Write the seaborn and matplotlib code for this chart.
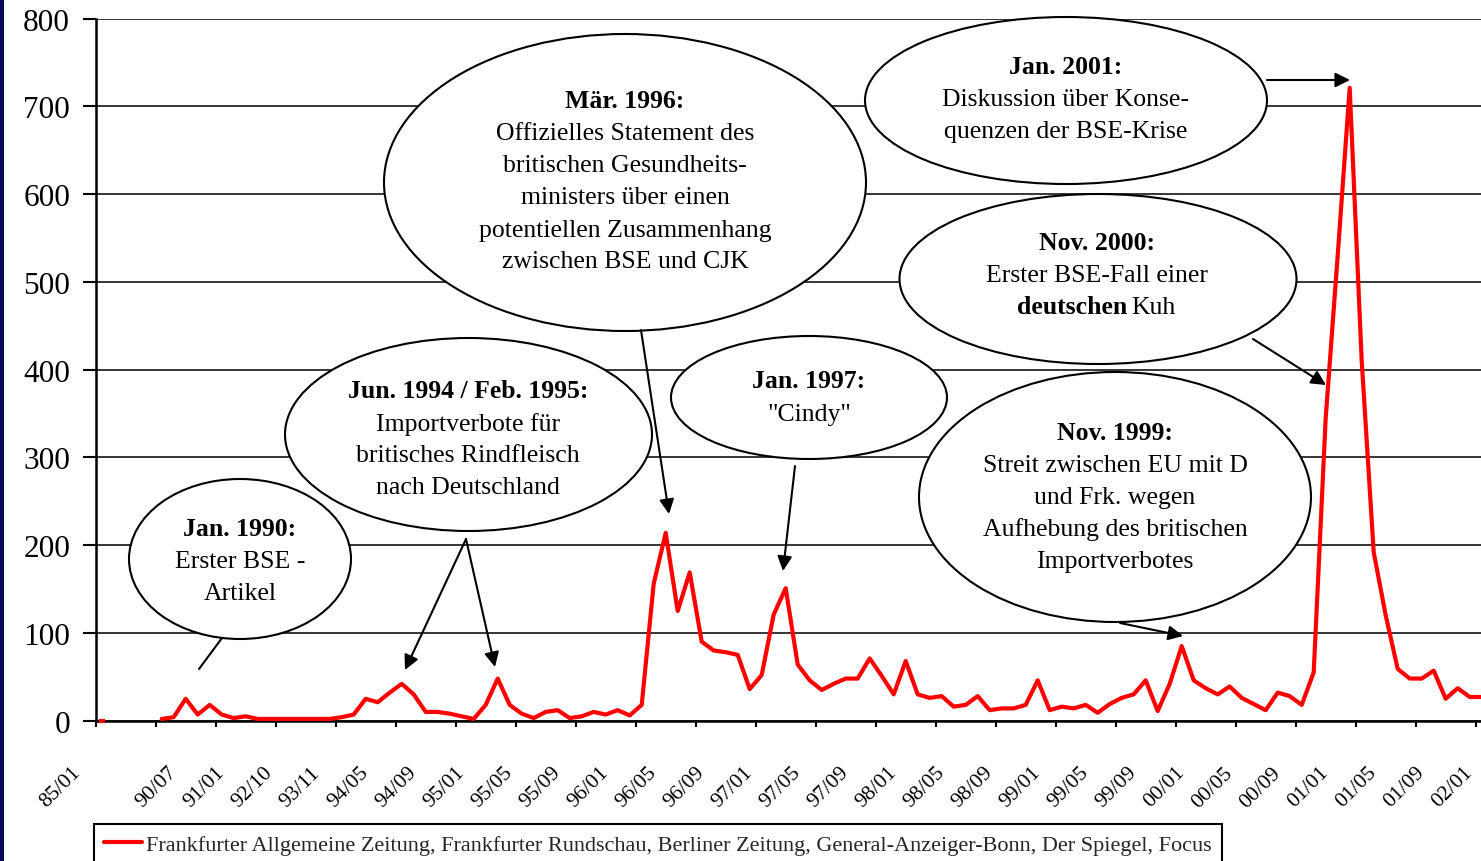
import numpy as np
import pandas as pd
import matplotlib
matplotlib.use("Agg")
import matplotlib.pyplot as plt
import seaborn as sns
from matplotlib.patches import Ellipse, Rectangle, FancyArrowPatch
from matplotlib.transforms import ScaledTranslation, blended_transform_factory
from matplotlib.lines import Line2D

W, H, DPI = 1481, 862, 100

# ---------------- data ----------------
series_name = ("Frankfurter Allgemeine Zeitung, Frankfurter Rundschau, Berliner Zeitung, "
               "General-Anzeiger-Bonn, Der Spiegel, Focus")

# category labels, one every 4 categories (second one left blank as in the original)
tick_labels = ["85/01", "", "90/07", "91/01", "92/10", "93/11", "94/05", "94/09",
               "95/01", "95/05", "95/09", "96/01", "96/05", "96/09", "97/01", "97/05",
               "97/09", "98/01", "98/05", "98/09", "99/01", "99/05", "99/09", "00/01",
               "00/05", "00/09", "01/01", "01/05", "01/09", "02/01"]

# number of articles per category (month); NaN = no data
values = [0, np.nan, np.nan, np.nan, np.nan,
          2, 4, 25, 7, 18, 7, 3, 5, 2, 2, 2, 2, 2, 2, 2,
          4, 7, 25, 21, 32, 42, 30, 10, 10, 8, 5, 2, 18, 48, 18, 8,
          3, 10, 12, 3, 5, 10, 7, 12, 6, 18, 156, 214, 125, 169, 90, 80,
          78, 75, 36, 52, 121, 151, 64, 46, 35, 42, 48, 48, 71, 51, 30, 68,
          30, 26, 28, 16, 18, 28, 12, 14, 14, 18, 46, 12, 16, 14, 18, 9,
          19, 26, 30, 46, 11, 42, 85, 46, 37, 30, 39, 26, 19, 12, 32, 28,
          18, 55, 345, 530, 721, 410, 192, 120, 59, 48, 48, 57, 25, 37, 27, 27]

y_ticks = [0, 100, 200, 300, 400, 500, 600, 700, 800]

# ---------------- style ----------------
sns.set_theme(style="white")
plt.rcParams["font.family"] = ["Liberation Serif", "DejaVu Serif"]

fig = plt.figure(figsize=(W / DPI, H / DPI), dpi=DPI)
fig.patch.set_facecolor("white")

x0_px, y0_px, ytop_px = 95.7, 721.7, 19.5
cat_px = 12.0
ax = fig.add_axes([x0_px / W, 1 - y0_px / H, (W - x0_px) / W, (y0_px - ytop_px) / H])
ax.set_facecolor("white")

df = pd.DataFrame({"pos": np.arange(len(values)) + 0.5, "value": values})
main = df.iloc[5:].reset_index(drop=True)
sns.lineplot(data=main, x="pos", y="value", color="#ff0000", linewidth=3, ax=ax,
             legend=False, zorder=3)
first = df.iloc[:1]
ax.plot(first["pos"], first["value"], marker="_", ms=5, mew=3, color="#ff0000",
        ls="none", clip_on=False, zorder=3)

ax.set_xlim(0, (W - x0_px) / cat_px)
ax.set_ylim(0, 800)
ax.set_xlabel("")
ax.set_ylabel("")

ax.set_yticks(y_ticks)
ax.set_yticklabels([str(v) for v in y_ticks])
ax.yaxis.grid(True, color="black", linewidth=1.1)
ax.xaxis.grid(False)
ax.set_axisbelow(True)

for s in ["top", "right"]:
    ax.spines[s].set_visible(False)
for s in ["left", "bottom"]:
    ax.spines[s].set_color("black")
    ax.spines[s].set_linewidth(1.8)

ax.tick_params(axis="y", which="major", left=True, direction="out", length=9.5,
               width=1.5, color="black", pad=9, labelsize=22.5, labelcolor="black")
ax.set_xticks([])
ax.set_xticks(np.arange(0, 116, 5), minor=True)
ax.tick_params(axis="x", which="minor", bottom=True, direction="out", length=4.5,
               width=1.5, color="black")

# category labels (drawn as text so the last one, just beyond the crop, still shows)
trans = blended_transform_factory(ax.transData, ax.transAxes) + \
    ScaledTranslation(-31 / DPI, -42 / DPI, fig.dpi_scale_trans)
for i, lab in enumerate(tick_labels):
    ax.text(i * 4 + 0.5, 0, lab, transform=trans, rotation=45, ha="right", va="top",
            rotation_mode="anchor", fontsize=15.5, color="black", clip_on=False)

# ---------------- annotations ----------------
def fx(x):
    return x / W

def fy(y):
    return 1 - y / H

ellipses = [
    (240, 560, 222, 160),
    (468.5, 435.5, 367, 193),
    (625, 183.5, 482, 297),
    (809, 398.5, 276, 123),
    (1066, 101.5, 402, 167),
    (1098, 280, 397, 170),
    (1115, 498, 392, 250),
]
for cx, cy, w, h in ellipses:
    fig.add_artist(Ellipse((fx(cx), fy(cy)), w / W, h / H, transform=fig.transFigure,
                           facecolor="white", edgecolor="black", linewidth=1.5, zorder=5))

FS = 18.5
texts = [
    (240, [("Jan. 1990:", True), ("Erster BSE -", False), ("Artikel", False)], 528),
    (468, [("Jun. 1994 / Feb. 1995:", True), ("Importverbote für", False),
           ("britisches Rindfleisch", False), ("nach Deutschland", False)], 390),
    (625, [("Mär. 1996:", True), ("Offizielles Statement des", False),
           ("britischen Gesundheits-", False), ("ministers über einen", False),
           ("potentiellen Zusammenhang", False), ("zwischen BSE und CJK", False)], 100),
    (809, [("Jan. 1997:", True), ('"Cindy"', False)], 380),
    (1066, [("Jan. 2001:", True), ("Diskussion über Konse-", False),
            ("quenzen der BSE-Krise", False)], 66),
    (1097, [("Nov. 2000:", True), ("Erster BSE-Fall einer", False)], 242),
    (1115, [("Nov. 1999:", True), ("Streit zwischen EU mit D", False),
            ("und Frk. wegen", False), ("Aufhebung des britischen", False),
            ("Importverbotes", False)], 432),
]
for cx, lines, ystart in texts:
    for k, (t, bold) in enumerate(lines):
        yb = ystart + 32 * k + 8.5
        fig.text(fx(cx), fy(yb), t, ha="center", va="baseline", fontsize=FS,
                 fontweight="bold" if bold else "normal", color="black", zorder=6)
# mixed line
fig.text(fx(1127), fy(306 + 8.5), "deutschen", ha="right", va="baseline", fontsize=FS,
         fontweight="bold", color="black", zorder=6)
fig.text(fx(1131), fy(306 + 8.5), "Kuh", ha="left", va="baseline", fontsize=FS,
         color="black", zorder=6)

arrows = [
    ((222, 639), (199, 670), False),
    ((466, 540), (405, 671), True),
    ((466, 540), (495, 668), True),
    ((641, 331), (669, 515), True),
    ((795, 467), (783, 572), True),
    ((1267, 81), (1350, 81), True),
    ((1253, 340), (1326, 386), True),
    ((1120, 624), (1183, 637), True),
]
for (xa, ya), (xb, yb), head in arrows:
    style = "-|>" if head else "-"
    fig.add_artist(FancyArrowPatch((fx(xa), fy(ya)), (fx(xb), fy(yb)),
                                   transform=fig.transFigure, arrowstyle=style,
                                   mutation_scale=22, linewidth=1.5, color="black",
                                   shrinkA=0, shrinkB=0, zorder=7))

# ---------------- legend ----------------
handle = Line2D([], [], color="#ff0000", linewidth=3)
leg = fig.legend(handles=[handle], labels=[series_name], loc="upper left",
                 bbox_to_anchor=(fx(94), fy(825)), bbox_transform=fig.transFigure,
                 frameon=True, fancybox=False, shadow=False, framealpha=1,
                 edgecolor="black", fontsize=16, handlelength=1.7,
                 handletextpad=0.2, borderpad=0.45, borderaxespad=0)
leg.get_frame().set_linewidth(1.5)

# dark left border strip
fig.add_artist(Rectangle((0, 0), 4 / W, 1, transform=fig.transFigure,
                         facecolor="#0a0a50", edgecolor="none", zorder=10))

fig.savefig("out.png", dpi=DPI)
